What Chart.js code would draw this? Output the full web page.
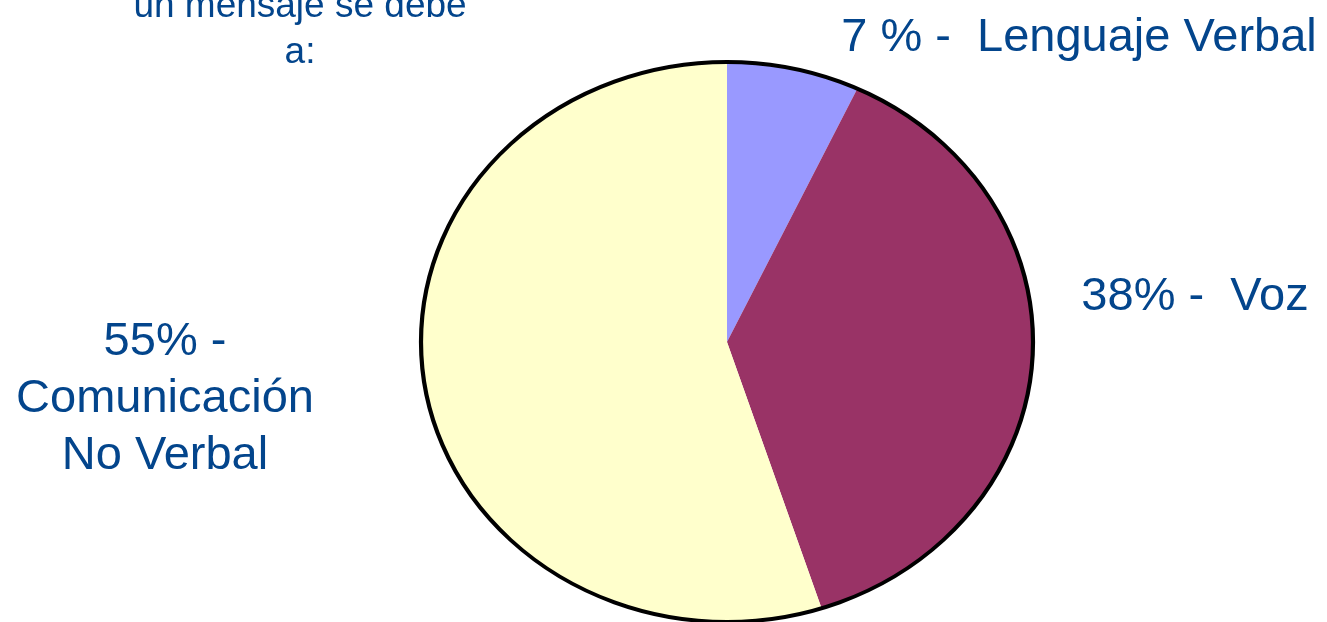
<!DOCTYPE html>
<html>
<head>
<meta charset="utf-8">
<script src="https://cdn.jsdelivr.net/npm/chart.js@4"></script>
<style>
  html, body { margin: 0; padding: 0; background: #fff; overflow: hidden; }
  #wrap { width: 1327px; height: 622px; overflow: hidden; }
</style>
</head>
<body>
<div id="wrap"><canvas id="pieChart" width="1327" height="700"></canvas></div>
<script>
// DATA
const categories = ["Lenguaje Verbal", "Voz", "Comunicación No Verbal"];
const percents = [7, 38, 55];
const sliceColors = ["#9999FF", "#993366", "#FFFFCC"];

const textColor = "#03458C";
const fontFamily = "'Liberation Sans', Arial, Helvetica, sans-serif";

// squash the pie a bit vertically (the original is an ellipse)
const squash = 280 / 306;

const ellipsePlugin = {
  id: "ellipse",
  beforeDatasetsDraw(chart) {
    const arc = chart.getDatasetMeta(0).data[0];
    const ctx = chart.ctx;
    ctx.save();
    ctx.translate(arc.x, arc.y);
    ctx.scale(1, squash);
    ctx.translate(-arc.x, -arc.y);
  },
  afterDatasetsDraw(chart) {
    const arc = chart.getDatasetMeta(0).data[0];
    const ctx = chart.ctx;
    // outer black outline only
    ctx.beginPath();
    ctx.arc(arc.x, arc.y, arc.outerRadius, 0, Math.PI * 2);
    ctx.lineWidth = 4.2;
    ctx.strokeStyle = "#000";
    ctx.stroke();
    ctx.restore();
  }
};

// text labels
const labelPlugin = {
  id: "labels",
  afterDraw(chart) {
    const ctx = chart.ctx;
    ctx.save();
    ctx.fillStyle = textColor;
    ctx.textAlign = "center";
    ctx.textBaseline = "alphabetic";

    ctx.font = "37px " + fontFamily;
    ctx.fillText("un mensaje se debe", 300, 17);
    ctx.fillText("a:", 300, 63);

    ctx.font = "47px " + fontFamily;
    ctx.fillText(percents[0] + " % -  " + categories[0], 1079, 51);
    ctx.fillText(percents[1] + "% -  " + categories[1], 1195, 310);
    ctx.fillText(percents[2] + "% -", 165, 355);
    ctx.fillText("Comunicación", 165, 412);
    ctx.fillText("No Verbal", 165, 469);
    ctx.restore();
  }
};

let pie = new Chart(document.getElementById("pieChart"), {
  type: "pie",
  data: {
    labels: categories,
    datasets: [{
      data: percents,
      backgroundColor: sliceColors,
      borderWidth: 0,
      hoverOffset: 0,
      offset: 0
    }]
  },
  options: {
    responsive: false,
    animation: false,
    events: [],
    layout: {
      padding: { left: 421, right: 294, top: 36, bottom: 52 }
    },
    plugins: {
      legend: { display: false },
      tooltip: { enabled: false },
      title: { display: false }
    }
  },
  plugins: [ellipsePlugin, labelPlugin]
});
</script>
</body>
</html>
